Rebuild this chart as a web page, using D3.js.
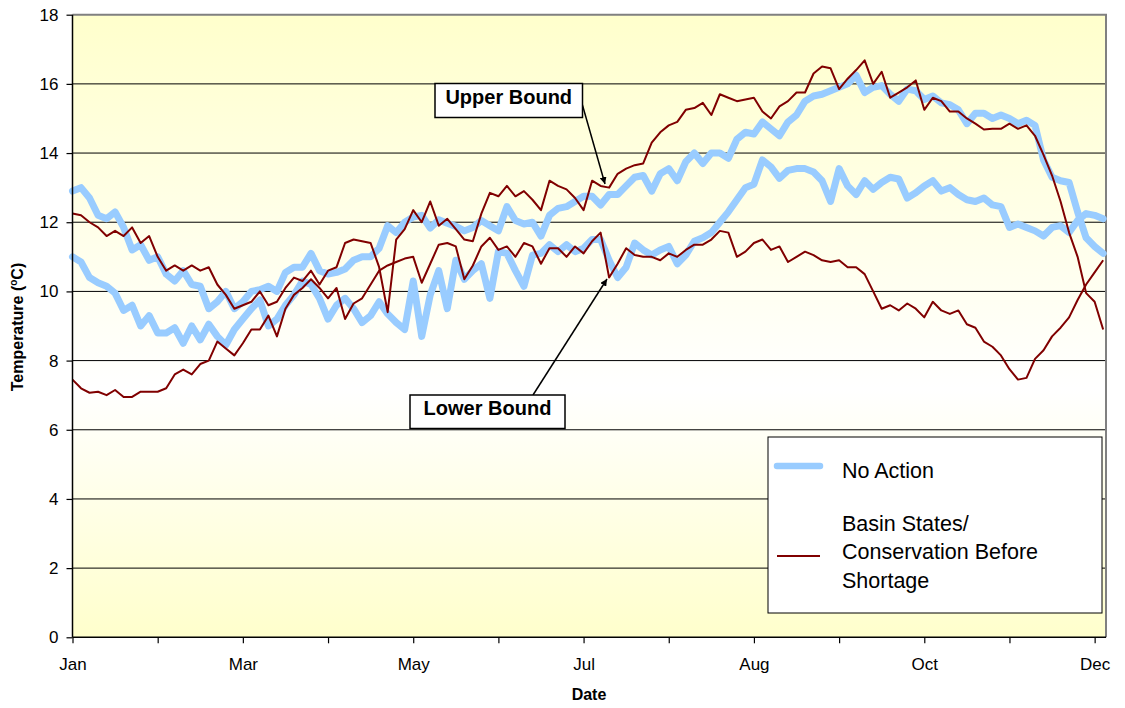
<!DOCTYPE html>
<html><head><meta charset="utf-8">
<script src="https://cdn.jsdelivr.net/npm/d3@7"></script>
<style>
body{margin:0;background:#fff}
svg{display:block}
text{font-family:"Liberation Sans",Arial,Helvetica,sans-serif;fill:#000}
</style>
</head><body>
<svg id="chart" width="1125" height="708"></svg>
<script>
// ---------- DATA ----------
const days = [0,3,6,9,12,15,18,21,24,27,30,33,36,39,42,45,48,51,54,57,60,63,66,69,72,75,78,81,84,87,
90,93,96,99,102,105,108,111,114,117,120,123,126,129,132,135,138,141,144,147,150,153,156,159,162,165,168,171,174,177,
180,183,186,189,192,195,198,201,204,207,210,213,216,219,222,225,228,231,234,237,240,243,246,249,252,255,258,261,264,267,
270,273,276,279,282,285,288,291,294,297,300,303,306,309,312,315,318,321,324,327,330,333,336,339,342,345,348,351,354,357,
360,363];

const tickDays = [0,30,60,90,120,150,180,210,240,270,300,330,360];
const tickLabels = ["Jan","","Mar","","May","","Jul","","Aug","","Oct","","Dec"];
const yTicks = [0,2,4,6,8,10,12,14,16,18];

const noActionUpper = [12.9,13.0,12.7,12.2,12.1,12.3,11.85,11.2,11.35,10.9,
11.0,10.5,10.3,10.6,10.2,10.15,9.5,9.7,10.0,9.5,
9.7,10.0,10.05,10.15,10.0,10.55,10.7,10.7,11.1,10.6,
10.5,10.55,10.65,10.9,11.0,11.0,11.25,11.9,11.7,12.0,
12.15,12.2,11.83,12.07,11.97,11.88,11.75,11.85,12.05,11.9,
11.75,12.45,12.05,11.95,12.0,11.6,12.2,12.4,12.45,12.6,
12.75,12.75,12.5,12.8,12.8,13.05,13.3,13.35,12.9,13.4,
13.55,13.2,13.75,14.0,13.7,14.0,14.0,13.85,14.4,14.6,
14.55,14.9,14.7,14.5,14.9,15.1,15.5,15.65,15.7,15.8,
15.9,16.0,16.25,15.75,15.9,15.95,15.7,15.5,15.85,15.8,
15.55,15.65,15.45,15.4,15.25,14.85,15.15,15.15,15.0,15.1,
15.0,14.85,14.95,14.8,13.8,13.3,13.2,13.15,12.3,11.55,
11.3,11.1];

const noActionLower = [11.0,10.85,10.4,10.25,10.15,9.95,9.45,9.6,9.0,9.3,
8.8,8.8,8.95,8.5,9.0,8.6,9.05,8.7,8.45,8.9,
9.2,9.5,9.75,9.0,9.2,9.6,9.9,10.3,10.2,9.8,
9.2,9.6,9.8,9.5,9.1,9.3,9.7,9.35,9.1,8.9,
10.3,8.7,9.9,10.6,9.5,10.9,10.35,10.6,10.8,9.8,
11.15,11.1,10.6,10.15,11.05,11.1,11.35,11.15,11.35,11.15,
11.25,11.5,11.5,10.9,10.4,10.7,11.4,11.2,11.05,11.2,
11.3,10.8,11.05,11.45,11.55,11.7,12.0,12.3,12.65,13.0,
13.1,13.8,13.6,13.27,13.5,13.55,13.55,13.45,13.2,12.6,
13.55,13.05,12.8,13.2,12.95,13.15,13.3,13.25,12.7,12.85,
13.05,13.2,12.9,13.0,12.8,12.65,12.6,12.7,12.5,12.45,
11.85,11.95,11.85,11.75,11.6,11.85,11.9,11.7,12.05,12.25,
12.2,12.1];

const basinUpper = [12.25,12.2,12.0,11.85,11.6,11.75,11.6,11.85,11.4,11.6,
11.0,10.6,10.75,10.6,10.75,10.6,10.7,10.2,9.9,9.5,
9.6,9.7,10.0,9.6,9.7,10.1,10.4,10.3,10.6,10.2,
10.6,10.7,11.4,11.5,11.45,11.4,10.7,9.4,11.5,11.8,
12.35,12.0,12.6,11.9,12.1,11.8,11.5,11.45,12.25,12.85,
12.75,13.05,12.75,12.9,12.65,12.35,13.2,13.05,12.95,12.7,
12.35,13.2,13.05,13.0,13.4,13.55,13.65,13.7,14.3,14.6,
14.8,14.9,15.25,15.3,15.45,15.1,15.7,15.6,15.5,15.55,
15.6,15.2,15.0,15.35,15.5,15.75,15.75,16.3,16.5,16.45,
15.85,16.15,16.4,16.68,16.0,16.35,15.6,15.75,15.9,16.1,
15.25,15.6,15.5,15.2,15.2,15.0,14.85,14.68,14.7,14.7,
14.85,14.7,14.8,14.5,13.95,13.35,12.6,11.7,11.0,9.95,
9.7,8.9];

const basinLower = [7.45,7.2,7.07,7.1,7.0,7.15,6.95,6.95,7.1,7.1,
7.1,7.2,7.6,7.74,7.6,7.9,8.0,8.55,8.35,8.15,
8.5,8.9,8.9,9.3,8.7,9.5,9.9,10.1,10.35,10.1,
9.8,10.1,9.2,9.65,9.8,10.2,10.6,10.75,10.85,10.95,
11.0,10.25,10.8,11.35,11.4,11.3,10.35,10.75,11.3,11.55,
11.2,11.3,11.0,11.4,11.3,10.8,11.25,11.25,11.0,11.3,
11.1,11.45,11.7,10.4,10.8,11.25,11.05,11.0,11.0,10.9,
11.1,11.0,11.2,11.35,11.35,11.5,11.75,11.7,11.0,11.15,
11.4,11.5,11.2,11.3,10.85,11.0,11.15,11.05,10.9,10.85,
10.9,10.7,10.7,10.5,10.0,9.5,9.6,9.45,9.65,9.5,
9.25,9.7,9.45,9.35,9.45,9.05,8.95,8.55,8.4,8.15,
7.75,7.45,7.5,8.05,8.3,8.7,8.95,9.25,9.75,10.2,
10.55,10.9];

const legendLabels = ["No Action", ["Basin States/","Conservation Before","Shortage"]];
const annotationLabels = ["Upper Bound","Lower Bound"];

// ---------- CHART ----------
const svg = d3.select("#chart");
const L = 72.5, R = 1106, T = 14.7, B = 637.3;
const x = d3.scaleLinear().domain([0, 364]).range([L, R]);
const y = d3.scaleLinear().domain([0, 18]).range([B, T]);

const defs = svg.append("defs");
const grad = defs.append("linearGradient").attr("id","bg").attr("x1",0).attr("y1",0).attr("x2",0).attr("y2",1);
grad.append("stop").attr("offset","0%").attr("stop-color","#FFFFCC");
grad.append("stop").attr("offset","60%").attr("stop-color","#FFFFFF");
grad.append("stop").attr("offset","100%").attr("stop-color","#FFFFCC");

defs.append("marker").attr("id","arrow").attr("viewBox","0 0 10 10")
  .attr("refX",10).attr("refY",5).attr("markerWidth",7).attr("markerHeight",7)
  .attr("markerUnits","userSpaceOnUse").attr("orient","auto")
  .append("path").attr("d","M0,0 L10,5 L0,10 z").attr("fill","#000");

svg.append("rect").attr("x",L).attr("y",T).attr("width",R-L).attr("height",B-T)
  .attr("fill","url(#bg)");

// gridlines
svg.append("g").selectAll("line").data(yTicks.filter(v => v > 0 && v < 18)).join("line")
  .attr("x1",L).attr("x2",R).attr("y1",d=>y(d)).attr("y2",d=>y(d))
  .attr("stroke","#000").attr("stroke-width",1);

// top/right border
svg.append("path").attr("d",`M${L},${T}H${R}V${B}`).attr("fill","none")
  .attr("stroke","#808080").attr("stroke-width",2);

// series
const line = d3.line().x((d,i)=>x(days[i])).y(d=>y(d));
const blue = "#99CCFF", red = "#800000";
[noActionUpper, noActionLower].forEach(s => {
  svg.append("path").datum(s).attr("d",line).attr("fill","none")
    .attr("stroke",blue).attr("stroke-width",7).attr("stroke-linejoin","round").attr("stroke-linecap","round");
});
[basinUpper, basinLower].forEach(s => {
  svg.append("path").datum(s).attr("d",line).attr("fill","none")
    .attr("stroke",red).attr("stroke-width",2).attr("stroke-linejoin","round");
});

// axes
const yAxis = svg.append("g").attr("transform",`translate(${L},0)`)
  .call(d3.axisLeft(y).tickValues(yTicks).tickSize(6).tickPadding(8).tickFormat(d3.format("d")));
const xAxis = svg.append("g").attr("transform",`translate(0,${B})`)
  .call(d3.axisBottom(x).tickValues(tickDays).tickSize(6).tickPadding(15).tickFormat((d,i)=>tickLabels[i]));
[yAxis, xAxis].forEach(a => {
  a.select(".domain").attr("stroke","#000").attr("stroke-width",1.5);
  a.selectAll(".tick line").attr("stroke","#000").attr("stroke-width",1.2);
  a.selectAll(".tick text").attr("font-size",17).attr("fill","#000")
    .attr("font-family",'"Liberation Sans",Arial,sans-serif');
});
xAxis.select(".domain").attr("d",`M${L},0H${R}`);
yAxis.select(".domain").attr("d",`M0,${B}V${T}`);

// axis titles
const yt = svg.append("text").attr("transform",`translate(23,327) rotate(-90)`)
  .attr("text-anchor","middle").attr("font-size",16).attr("font-weight","bold");
yt.append("tspan").text("Temperature (");
yt.append("tspan").text("o").attr("font-size",10).attr("dy",-6);
yt.append("tspan").text("C)").attr("dy",6);
svg.append("text").attr("x",589).attr("y",700).attr("text-anchor","middle")
  .attr("font-size",16).attr("font-weight","bold").text("Date");

// annotations
function annot(label, bx, by, bw, bh, x1, y1, x2, y2){
  svg.append("line").attr("x1",x1).attr("y1",y1).attr("x2",x2).attr("y2",y2)
    .attr("stroke","#000").attr("stroke-width",1.5).attr("marker-end","url(#arrow)");
  svg.append("rect").attr("x",bx).attr("y",by).attr("width",bw).attr("height",bh)
    .attr("fill","#fff").attr("stroke","#000").attr("stroke-width",1.5);
  svg.append("text").attr("x",bx+bw/2).attr("y",by+20).attr("text-anchor","middle")
    .attr("font-size",20).attr("font-weight","bold").text(label);
}
annot(annotationLabels[0], 435, 83.5, 147.5, 34, 581, 100, 605, 184);
annot(annotationLabels[1], 410, 395, 155, 33.5, 533, 395, 607, 279);

// legend
const lg = svg.append("g");
lg.append("rect").attr("x",768).attr("y",437).attr("width",334).attr("height",176)
  .attr("fill","#fff").attr("stroke","#000").attr("stroke-width",1);
lg.append("line").attr("x1",777).attr("x2",820).attr("y1",466).attr("y2",466)
  .attr("stroke",blue).attr("stroke-width",6.5).attr("stroke-linecap","round");
lg.append("text").attr("x",842).attr("y",478.3).attr("font-size",21.5).text(legendLabels[0]);
lg.append("line").attr("x1",777).attr("x2",820).attr("y1",556).attr("y2",556)
  .attr("stroke",red).attr("stroke-width",2);
legendLabels[1].forEach((t,i) => {
  lg.append("text").attr("x",842).attr("y",531 + i*28.4).attr("font-size",21.5).text(t);
});
</script>
</body></html>
